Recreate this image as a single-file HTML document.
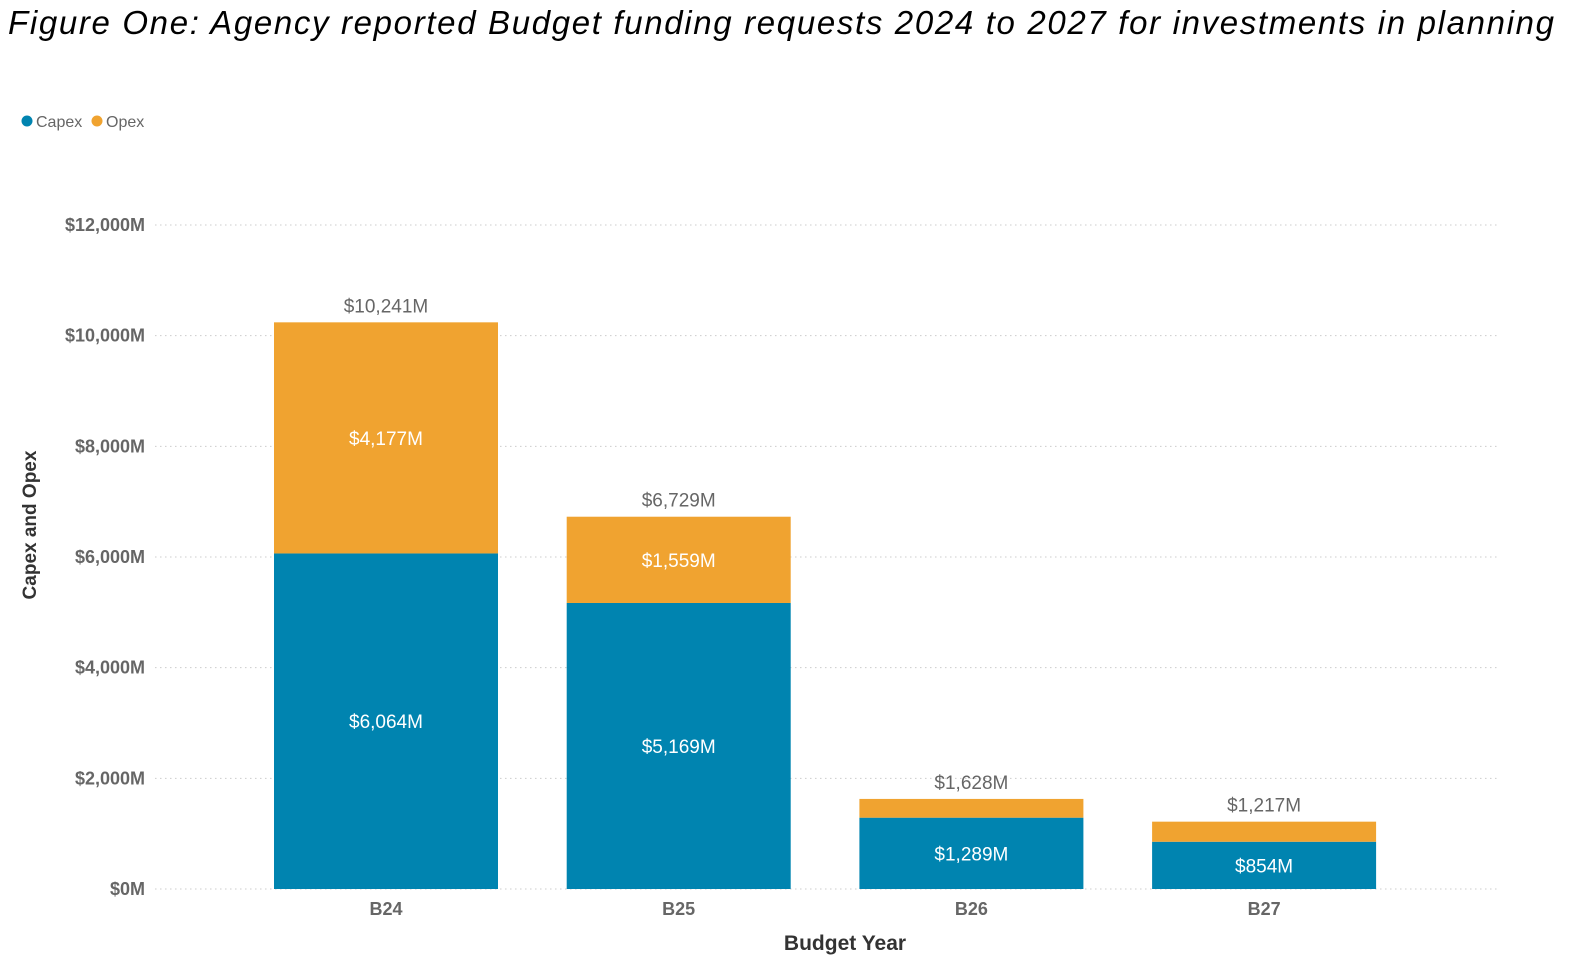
<!DOCTYPE html>
<html><head><meta charset="utf-8"><style>
body{margin:0;width:1588px;height:964px;background:#fff;overflow:hidden;font-family:"Liberation Sans",sans-serif}
svg{display:block}
</style></head><body>
<svg id="chart" width="1588" height="964">
<text x="8" y="34" font-size="33" font-style="italic" fill="#000" textLength="1546">Figure One: Agency reported Budget funding requests 2024 to 2027 for investments in planning</text>
<g>
<circle cx="27" cy="121" r="5.5" fill="#0084b0"/>
<text x="36" y="127" font-size="16" fill="#666">Capex</text>
<circle cx="97" cy="121" r="5.5" fill="#f0a330"/>
<text x="106" y="127" font-size="16" fill="#666">Opex</text>
</g>
<text transform="translate(36,525) rotate(-90)" text-anchor="middle" font-size="19" font-weight="bold" fill="#333">Capex and Opex</text>
<text x="845" y="950" text-anchor="middle" font-size="21" font-weight="bold" fill="#333">Budget Year</text>
<g id="grid"></g><g id="bars"></g>
</svg>
<script>
const categories=["B24","B25","B26","B27"];
const capex=[6064,5169,1289,854];
const opex=[4177,1559,339,363];
const totals=[10241,6729,1628,1217];
const yTicks=[0,2000,4000,6000,8000,10000,12000];
const NS="http://www.w3.org/2000/svg";
const y0=889,y1=225,vmax=12000;
function y(v){return y0-(y0-y1)*v/vmax;}
function xc(i){return 386+i*292.7;}
const bw=224;
function mk(tag,attrs,parent,txt){const e=document.createElementNS(NS,tag);for(const k in attrs)e.setAttribute(k,attrs[k]);if(txt!==undefined)e.textContent=txt;parent.appendChild(e);return e;}
const grid=document.getElementById('grid'),bars=document.getElementById('bars');
function fmt(v){return "$"+v.toLocaleString('en-US')+"M";}
yTicks.forEach(t=>{
 const l=mk('line',{x1:155,x2:1500,y1:y(t),y2:y(t),stroke:'#ccc','stroke-dasharray':'1.5 3.5','stroke-width':1},grid);
 
 
 const tx=mk('text',{x:145,y:y(t)+6,'text-anchor':'end','font-size':18,'font-weight':'bold',fill:'#666'},grid,fmt(t));
 
 
});
categories.forEach((c,i)=>{
 const x=xc(i)-bw/2;
 const b1=mk('rect',{x:x,y:y(capex[i]),width:bw,height:y(0)-y(capex[i]),fill:'#0084b0'},bars);
 
 
 const b2=mk('rect',{x:x,y:y(capex[i]+opex[i]),width:bw,height:y(capex[i])-y(capex[i]+opex[i]),fill:'#f0a330'},bars);
 
 
 const cl=mk('text',{x:xc(i),y:(y(0)+y(capex[i]))/2+7,'text-anchor':'middle','font-size':19,fill:'#fff'},bars,fmt(capex[i]));
 
 
 if(i<2){const ol=mk('text',{x:xc(i),y:(y(capex[i])+y(capex[i]+opex[i]))/2+7,'text-anchor':'middle','font-size':19,fill:'#fff'},bars,fmt(opex[i]));
 
 }
 const tl=mk('text',{x:xc(i),y:y(totals[i])-10,'text-anchor':'middle','font-size':19,fill:'#666'},bars,fmt(totals[i]));
 
 
 const xl=mk('text',{x:xc(i),y:915,'text-anchor':'middle','font-size':18,'font-weight':'bold',fill:'#666'},bars,c);
 
 
});
</script>
</body></html>
